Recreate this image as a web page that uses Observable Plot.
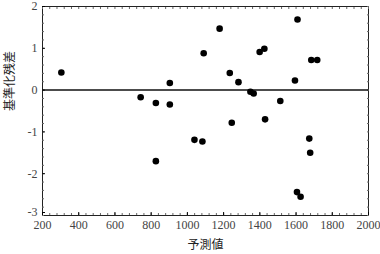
<!DOCTYPE html>
<html><head><meta charset="utf-8">
<script src="https://cdn.jsdelivr.net/npm/d3@7"></script>
<script src="https://cdn.jsdelivr.net/npm/@observablehq/plot@0.6"></script>
<style>
body{margin:0;background:#fff;}
#chart{position:relative;width:380px;height:254px;}
</style>
</head><body><div id="chart"></div>
<script>
const predicted = [304, 742, 826, 903, 903, 1090, 1178, 1234, 1282, 1348, 1366, 1399, 1425, 1513, 1594, 1608, 1684, 1717, 1245, 1429, 826, 1039, 1083, 1673, 1678, 1605, 1625];
const residual  = [0.42, -0.17, -0.31, 0.17, -0.345, 0.88, 1.47, 0.41, 0.19, -0.04, -0.08, 0.91, 0.99, -0.26, 0.23, 1.69, 0.72, 0.72, -0.78, -0.70, -1.70, -1.19, -1.23, -1.16, -1.50, -2.44, -2.55];
const xTicks = [200, 400, 600, 800, 1000, 1200, 1400, 1600, 1800, 2000];
const yTicks = [-2, -1, 0, 1, 2];
const yBottomTick = [-3];
const xLabel = "予測値";
const yLabel = "基準化残差";

const data = predicted.map((p, i) => ({p, r: residual[i]}));
const xMinor = d3.range(200, 2001, 40);
const yMinor = d3.range(-3, 2.001, 0.2).map(v => +v.toFixed(2));
const tickFont = "'Liberation Serif', 'DejaVu Serif', serif";
const fmtY = d => String(d).replace("−", "-");

const chart = Plot.plot({
  width: 380, height: 254,
  marginLeft: 42, marginRight: 12, marginTop: 6, marginBottom: 39,
  style: {fontFamily: tickFont, fontSize: "12px", background: "#fff", color: "#000"},
  x: {domain: [200, 2000]},
  y: {domain: [-3, 2]},
  marks: [
    Plot.frame({stroke: "#222", strokeWidth: 1}),
    Plot.axisX(xMinor, {anchor: "bottom", tickSize: -2, tickFormat: () => "", label: null, stroke: "#666"}),
    Plot.axisX(xMinor, {anchor: "top", tickSize: -2, tickFormat: () => "", label: null, stroke: "#666"}),
    Plot.axisY(yMinor, {anchor: "left", tickSize: -2, tickFormat: () => "", label: null, stroke: "#666"}),
    Plot.axisY(yMinor, {anchor: "right", tickSize: -2, tickFormat: () => "", label: null, stroke: "#666"}),
    Plot.axisX(xTicks, {anchor: "bottom", tickSize: -3, tickPadding: 8, tickFormat: d => String(d), label: null, fill: "#444", fontSize: 12}),
    Plot.axisY(yTicks, {anchor: "left", tickSize: -3, tickPadding: 8, tickFormat: fmtY, label: null, fill: "#444", fontSize: 12}),
    Plot.axisY(yBottomTick, {anchor: "left", tickSize: -3, tickPadding: 8, dy: -3, tickFormat: fmtY, label: null, fill: "#444", fontSize: 12}),
    Plot.ruleY([0], {stroke: "#111", strokeWidth: 1.5}),
    Plot.dot(data, {x: "p", y: "r", r: 3.3, fill: "#000", stroke: "none"}),
    Plot.text([xLabel], {frameAnchor: "bottom", dy: 33, text: d => d, fontFamily: "'Noto Sans CJK JP', sans-serif", fontSize: 12, fill: "#222"}),
    Plot.text([yLabel], {frameAnchor: "left", dx: -32, rotate: -90, text: d => d, fontFamily: "'Noto Sans CJK JP', sans-serif", fontSize: 12, fill: "#222"})
  ]
});
document.getElementById("chart").appendChild(chart);
</script>
</body></html>
